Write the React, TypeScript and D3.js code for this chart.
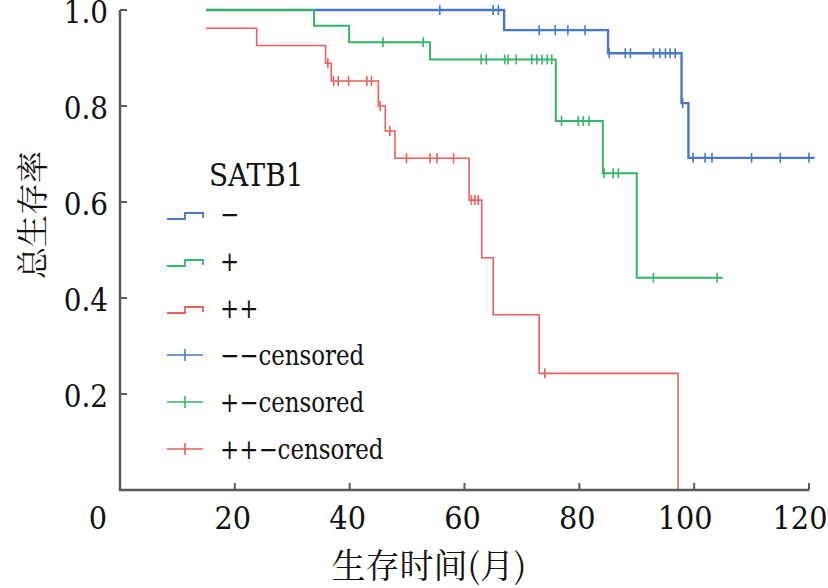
import React from "react";
import * as d3 from "d3";

// ---- data ----
const xTicks = [0, 20, 40, 60, 80, 100, 120];
const yTicks = [0.2, 0.4, 0.6, 0.8, 1.0];

// SATB1 "−"
const blueTimes = [15, 66.9, 85, 97.8, 99];
const blueSurv = [1.0, 0.958, 0.91, 0.806, 0.692];
const blueEnd = 121;
const blueCensor = [55.7, 65, 65.9, 73, 75.8, 78, 81, 85.2, 88, 88.9, 92.9, 94, 95, 95.8, 96.7, 98, 99.8, 101.9, 103.1, 110, 115, 120];

// SATB1 "+"
const greenTimes = [15, 33.8, 39.9, 54, 75.9, 84.1, 90];
const greenSurv = [1.0, 0.967, 0.933, 0.897, 0.769, 0.66, 0.442];
const greenEnd = 105;
const greenCensor = [45.8, 52.8, 62.9, 63.8, 67, 67.6, 69, 71.7, 72.6, 73.5, 74.4, 75.2, 76.9, 79.8, 80.7, 81.7, 84.3, 85.9, 86.8, 92.9, 104];

// SATB1 "++"
const redTimes = [15, 23.8, 35.8, 36.8, 45, 46.2, 47.9, 60.8, 63, 65, 73, 97.2];
const redSurv = [0.962, 0.926, 0.889, 0.852, 0.8, 0.748, 0.691, 0.604, 0.484, 0.365, 0.243, 0];
const redEnd = 97.2;
const redCensor = [36.2, 37.2, 38, 39.8, 43, 43.8, 45.3, 47, 49.9, 54, 55.2, 58.1, 61.2, 61.8, 62.4, 74];

const legendLabels = ["−", "+", "++", "−−censored", "+−censored", "++−censored"];

const BLUE = "#4a78c8";
const GREEN = "#35b46a";
const RED = "#e8605e";

const W = 828;
const H = 588;
const x = d3.scaleLinear().domain([0, 120]).range([120, 809]);
const y = d3.scaleLinear().domain([0, 1]).range([490, 10]);

function survAt(times: number[], surv: number[], t: number) {
  let v = surv[0];
  for (let i = 0; i < times.length; i++) if (times[i] <= t) v = surv[i];
  return v;
}

function stepPath(times: number[], surv: number[], end: number) {
  const pts: [number, number][] = times.map((t, i) => [t, surv[i]]);
  pts.push([end, surv[surv.length - 1]]);
  const line = d3
    .line<[number, number]>()
    .x((d) => x(d[0]))
    .y((d) => y(d[1]))
    .curve(d3.curveStepAfter);
  return line(pts) || "";
}

const series = [
  { times: blueTimes, surv: blueSurv, end: blueEnd, censor: blueCensor, color: BLUE, w: 2.4 },
  { times: greenTimes, surv: greenSurv, end: greenEnd, censor: greenCensor, color: GREEN, w: 2 },
  { times: redTimes, surv: redSurv, end: redEnd, censor: redCensor, color: RED, w: 1.6 },
];

const legendColors = [BLUE, GREEN, RED, BLUE, GREEN, RED];

export default function App() {
  const serif = "DejaVu Serif Condensed, DejaVu Serif, serif";
  const cjk = "Noto Serif CJK SC, Noto Sans CJK SC, sans-serif";
  const axisColor = "#5a5a5a";
  const tx = { fontFamily: serif, fontStretch: "condensed" as const };
  return (
    <div style={{ position: "absolute", left: 0, top: 0 }}>
      <svg width={W} height={H} viewBox={`0 0 ${W} ${H}`} style={{ display: "block", background: "#fff" }}>
        {/* curves */}
        {series.map((s, i) => (
          <g key={i}>
            <path d={stepPath(s.times, s.surv, s.end)} fill="none" stroke={s.color} strokeWidth={s.w} />
            {s.censor.map((c, j) => {
              const cx = x(c);
              const cy = y(survAt(s.times, s.surv, c));
              return <line key={j} x1={cx} x2={cx} y1={cy - 5} y2={cy + 5} stroke={s.color} strokeWidth={1.6} />;
            })}
          </g>
        ))}

        {/* axes */}
        <line x1={120} x2={120} y1={y(1)} y2={490} stroke={axisColor} strokeWidth={2.5} />
        <line x1={119} x2={x(120)} y1={490} y2={490} stroke={axisColor} strokeWidth={2.5} />
        {yTicks.map((t) => (
          <g key={t}>
            <line x1={120} x2={127} y1={y(t)} y2={y(t)} stroke={axisColor} strokeWidth={2} />
            <text x={108} y={y(t) + 2} dy="0.35em" textAnchor="end" style={tx} fontSize={31} fill="#111">
              {t.toFixed(1)}
            </text>
          </g>
        ))}
        {xTicks.map((t) => (
          <g key={t}>
            {t > 0 && <line x1={x(t)} x2={x(t)} y1={490} y2={483} stroke={axisColor} strokeWidth={2} />}
            <text
              x={t === 0 ? 98 : x(t) - (t >= 100 ? 9 : 2)}
              y={529}
              textAnchor="middle"
              style={tx}
              fontSize={32}
              fill="#111"
            >
              {t}
            </text>
          </g>
        ))}

        {/* axis titles */}
        <text
          transform="translate(30,215) rotate(-90)"
          textAnchor="middle"
          dominantBaseline="central"
          style={{ fontFamily: cjk }}
          fontSize={32}
          fill="#111"
        >
          总生存率
        </text>
        <text x={429} y={563} textAnchor="middle" dominantBaseline="central" style={{ fontFamily: cjk }} fontSize={34} fill="#111">
          生存时间(月)
        </text>

        {/* legend */}
        <text x={209} y={186} style={tx} fontSize={31} fill="#111">
          SATB1
        </text>
        {legendLabels.map((lab, i) => {
          const cy = 214 + i * 47;
          const c = legendColors[i];
          return (
            <g key={lab}>
              {i < 3 ? (
                <path
                  d={`M167,${cy + 5}H185V${cy - 1}H203V${cy + 4}`}
                  fill="none"
                  stroke={c}
                  strokeWidth={1.8}
                />
              ) : (
                <g>
                  <line x1={167} x2={203} y1={cy} y2={cy} stroke={c} strokeWidth={1.6} />
                  <line x1={185} x2={185} y1={cy - 6} y2={cy + 6} stroke={c} strokeWidth={1.6} />
                </g>
              )}
              <text
                transform={`translate(220,${cy + 10}) scale(0.91,1)`}
                style={tx}
                fontSize={28}
                fill="#111"
              >
                {lab}
              </text>
            </g>
          );
        })}
      </svg>
    </div>
  );
}
